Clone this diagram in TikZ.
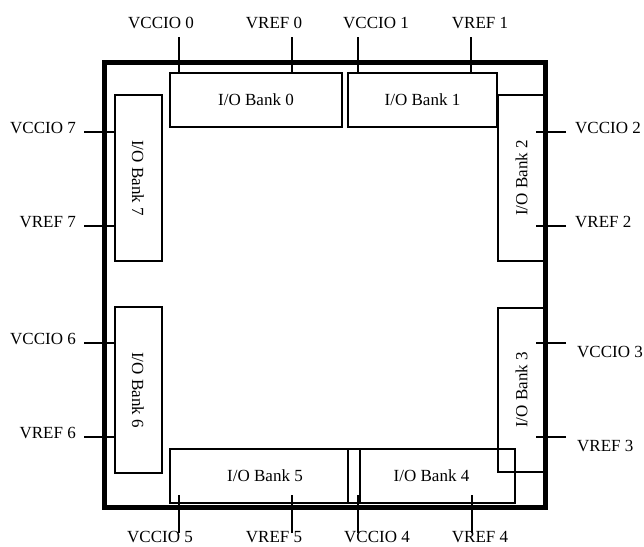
\documentclass[tikz,border=0pt]{standalone}
\usepackage{fontspec}
\setmainfont{Liberation Serif}
\usepackage{tikz}
\usetikzlibrary{positioning,calc}

\begin{document}
\begin{tikzpicture}[
    x=1pt, y=-1pt,
    font=\fontsize{17}{20}\selectfont,
    bank/.style={rectangle, draw, line width=2pt, fill=white, inner sep=0pt, minimum height=54pt},
    sidebank/.style={bank, minimum height=47pt, minimum width=166pt},
    pin/.style={line width=2pt},
    pinlabel/.style={inner sep=0pt}
]
    \useasboundingbox (0,0) rectangle (644,546);

    % Device outline
    \draw[line width=5pt] (104.5,62) rectangle (545.5,507.5);

    % Top banks
    \node[bank, minimum width=172pt] (bank0) at (256,100) {I/O Bank 0};
    \node[bank, minimum width=149pt] (bank1) at (422.5,100) {I/O Bank 1};

    % Right banks
    \node[sidebank, rotate=90] (bank2) at (521.5,178) {I/O Bank 2};
    \node[sidebank, rotate=90, minimum width=164pt] (bank3) at (521.5,390) {I/O Bank 3};

    % Bottom banks
    \node[bank, minimum width=190pt] (bank5) at (265,476) {I/O Bank 5};
    \node[bank, minimum width=167pt, fill=none] (bank4) at (431.5,476) {I/O Bank 4};

    % Left banks
    \node[sidebank, rotate=-90] (bank7) at (138,178) {I/O Bank 7};
    \node[sidebank, rotate=-90] (bank6) at (138,390) {I/O Bank 6};

    % Re-draw outline edge over the right banks
    \draw[line width=5pt] (545.5,62) -- (545.5,507.5);

    % Top pins
    \coordinate (vccio0) at (179,37);
    \coordinate (vref0) at (292,37);
    \coordinate (vccio1) at (358,37);
    \coordinate (vref1) at (471,37);
    \draw[pin] (vccio0) -- (vccio0 |- bank0.north);
    \draw[pin] (vref0) -- (vref0 |- bank0.north);
    \draw[pin] (vccio1) -- (vccio1 |- bank1.north);
    \draw[pin] (vref1) -- (vref1 |- bank1.north);
    \node[pinlabel] (lvccio0) at (161,23) {VCCIO 0};
    \node[pinlabel] (lvref0) at (274,23) {VREF 0};
    \node[pinlabel] (lvccio1) at (376,23) {VCCIO 1};
    \node[pinlabel] (lvref1) at (480,23) {VREF 1};

    % Bottom pins
    \coordinate (vccio5) at (179,533);
    \coordinate (vref5) at (292,533);
    \coordinate (vccio4) at (358,533);
    \coordinate (vref4) at (472,533);
    \draw[pin] (vccio5) -- ++(0,-38);
    \draw[pin] (vref5) -- ++(0,-38);
    \draw[pin] (vccio4) -- ++(0,-38);
    \draw[pin] (vref4) -- ++(0,-38);
    \node[pinlabel] (lvccio5) at (160,537) {VCCIO 5};
    \node[pinlabel] (lvref5) at (274,537) {VREF 5};
    \node[pinlabel] (lvccio4) at (377,537) {VCCIO 4};
    \node[pinlabel] (lvref4) at (480,537) {VREF 4};

    % Left pins
    \coordinate (vccio7) at (84,132);
    \coordinate (vref7) at (84,226);
    \coordinate (vccio6) at (84,343);
    \coordinate (vref6) at (84,437);
    \draw[pin] (vccio7) -- (vccio7 -| bank7.south);
    \draw[pin] (vref7) -- (vref7 -| bank7.south);
    \draw[pin] (vccio6) -- (vccio6 -| bank6.south);
    \draw[pin] (vref6) -- (vref6 -| bank6.south);
    \node[pinlabel, anchor=east] (lvccio7) at (76,128) {VCCIO 7};
    \node[pinlabel, anchor=east] (lvref7) at (76,222) {VREF 7};
    \node[pinlabel, anchor=east] (lvccio6) at (76,339) {VCCIO 6};
    \node[pinlabel, anchor=east] (lvref6) at (76,433) {VREF 6};

    % Right pins
    \coordinate (vccio2) at (566,132);
    \coordinate (vref2) at (566,226);
    \coordinate (vccio3) at (566,343);
    \coordinate (vref3) at (566,437);
    \draw[pin] (vccio2) -- ++(-30,0);
    \draw[pin] (vref2) -- ++(-30,0);
    \draw[pin] (vccio3) -- ++(-30,0);
    \draw[pin] (vref3) -- ++(-30,0);
    \node[pinlabel, anchor=west] (lvccio2) at (575,128) {VCCIO 2};
    \node[pinlabel, anchor=west] (lvref2) at (575,222) {VREF 2};
    \node[pinlabel, anchor=west] (lvccio3) at (577,352) {VCCIO 3};
    \node[pinlabel, anchor=west] (lvref3) at (577,446) {VREF 3};
\end{tikzpicture}
\end{document}
